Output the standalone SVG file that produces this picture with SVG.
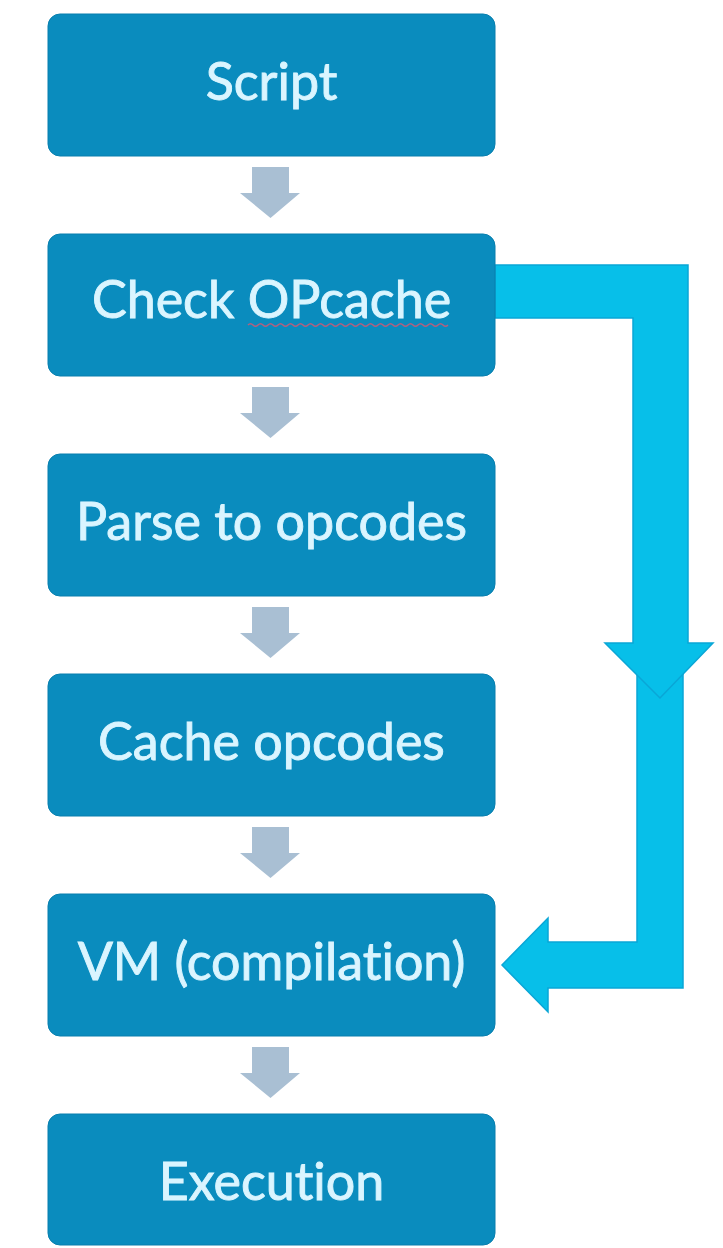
<svg xmlns="http://www.w3.org/2000/svg" width="723" height="1248" viewBox="0 0 723 1248">
<defs>
<style>
.box{fill:#0a8cbe;stroke:#087fae;stroke-width:1}
.lbl{font-family:Lato,"Liberation Sans",sans-serif;font-size:52px;fill:#daf5ff;stroke:#daf5ff;stroke-width:0.9;text-anchor:middle;font-variant-ligatures:none}
.garrow{fill:#a9bfd3}
.carrow{fill:#07bfe9;stroke:#0aa6d6;stroke-width:1.5;stroke-linejoin:miter}
</style>
</defs>
<rect width="723" height="1248" fill="#ffffff"/>
<g id="connectors">
<path class="garrow" d="M252 167 H289 V193 H300 L270.5 218 L240 193 H252 Z"/>
<path class="garrow" d="M252 387 H289 V413 H300 L270.5 438 L240 413 H252 Z"/>
<path class="garrow" d="M252 607 H289 V633 H300 L270.5 658 L240 633 H252 Z"/>
<path class="garrow" d="M252 827 H289 V853 H300 L270.5 878 L240 853 H252 Z"/>
<path class="garrow" d="M252 1047 H289 V1073 H300 L270.5 1098 L240 1073 H252 Z"/>
<path class="carrow" d="M637 670 H683 V988 H548 V1012 L502 965 L548 918 V942 H637 Z"/>
<path class="carrow" d="M495 265 H688 V643 H713 L660 698 L605 643 H633 V318 H495 Z"/>
</g>
<g id="n-script"><rect class="box" x="48" y="14" width="447" height="142" rx="12"/><text class="lbl" x="271.5" y="100">Script</text></g>
<g id="n-check"><rect class="box" x="48" y="234" width="447" height="142" rx="12"/><text class="lbl" x="271.5" y="318">Check OPcache</text>
<path d="M248 325 q2.5 -2.5 5 0 t5 0 t5 0 t5 0 t5 0 t5 0 t5 0 t5 0 t5 0 t5 0 t5 0 t5 0 t5 0 t5 0 t5 0 t5 0 t5 0 t5 0 t5 0 t5 0 t5 0 t5 0 t5 0 t5 0 t5 0 t5 0 t5 0 t5 0 t5 0 t5 0 t5 0 t5 0 t5 0 t5 0 t5 0 t5 0 t5 0 t5 0 t5 0 t5 0" fill="none" stroke="#b4607e" stroke-width="1.5"/></g>
<g id="n-parse"><rect class="box" x="48" y="454" width="447" height="142" rx="12"/><text class="lbl" x="271.5" y="540">Parse to opcodes</text></g>
<g id="n-cache"><rect class="box" x="48" y="674" width="447" height="142" rx="12"/><text class="lbl" x="271.5" y="760">Cache opcodes</text></g>
<g id="n-vm"><rect class="box" x="48" y="894" width="447" height="142" rx="12"/><text class="lbl" x="271.5" y="980">VM (compilation)</text></g>
<g id="n-exec"><rect class="box" x="48" y="1114" width="447" height="131" rx="12"/><text class="lbl" x="271.5" y="1200">Execution</text></g>
</svg>
